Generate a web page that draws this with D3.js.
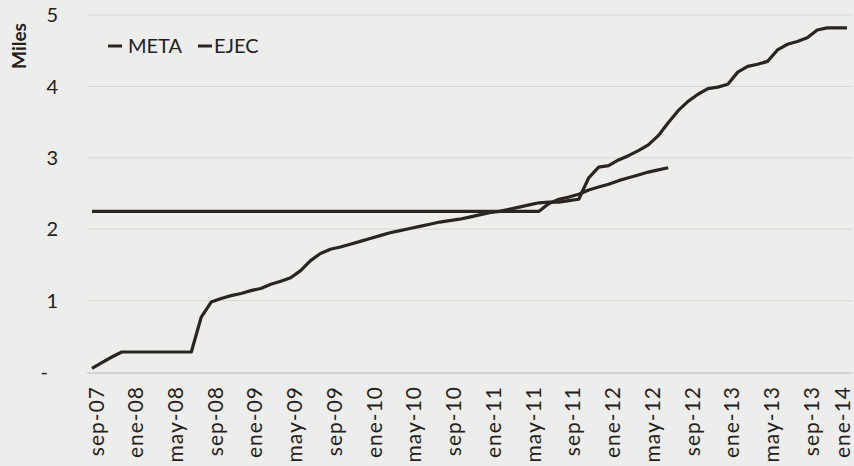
<!DOCTYPE html>
<html>
<head>
  <meta charset="utf-8">
  <script src="https://d3js.org/d3.v7.min.js"></script>
  <style>
    body { margin: 0; background: #ededeb; }
    svg { display: block; }
    text { font-family: Lato, "Open Sans", sans-serif; fill: #232120; }
  </style>
</head>
<body>
<script>
  // monthly categories, sep-07 .. ene-14
  var months = [
    "sep-07","oct-07","nov-07","dic-07",
    "ene-08","feb-08","mar-08","abr-08","may-08","jun-08","jul-08","ago-08","sep-08","oct-08","nov-08","dic-08",
    "ene-09","feb-09","mar-09","abr-09","may-09","jun-09","jul-09","ago-09","sep-09","oct-09","nov-09","dic-09",
    "ene-10","feb-10","mar-10","abr-10","may-10","jun-10","jul-10","ago-10","sep-10","oct-10","nov-10","dic-10",
    "ene-11","feb-11","mar-11","abr-11","may-11","jun-11","jul-11","ago-11","sep-11","oct-11","nov-11","dic-11",
    "ene-12","feb-12","mar-12","abr-12","may-12","jun-12","jul-12","ago-12","sep-12","oct-12","nov-12","dic-12",
    "ene-13","feb-13","mar-13","abr-13","may-13","jun-13","jul-13","ago-13","sep-13","oct-13","nov-13","dic-13",
    "ene-14"
  ];

  var xTickLabels = ["sep-07","ene-08","may-08","sep-08","ene-09","may-09","sep-09","ene-10","may-10","sep-10",
                     "ene-11","may-11","sep-11","ene-12","may-12","sep-12","ene-13","may-13","sep-13","ene-14"];

  var yTicks = [0, 1, 2, 3, 4, 5];
  var yTickLabels = ["-", "1", "2", "3", "4", "5"];

  // meta (target), thousands
  var meta = [
    2.25,2.25,2.25,2.25,
    2.25,2.25,2.25,2.25,2.25,2.25,2.25,2.25,2.25,2.25,2.25,2.25,
    2.25,2.25,2.25,2.25,2.25,2.25,2.25,2.25,2.25,2.25,2.25,2.25,
    2.25,2.25,2.25,2.25,2.25,2.25,2.25,2.25,2.25,2.25,2.25,2.25,
    2.25,2.25,2.25,2.25,2.25,2.25,2.36,2.42,2.45,2.49,2.55,2.59,
    2.63,2.68,2.72,2.76,2.80,2.83,2.86
  ];

  // ejecutado, thousands
  var ejec = [
    0.05,0.13,0.21,0.28,
    0.28,0.28,0.28,0.28,0.28,0.28,0.28,0.77,0.98,1.03,1.07,1.10,
    1.14,1.17,1.23,1.27,1.32,1.42,1.56,1.66,1.72,1.75,1.79,1.83,
    1.87,1.91,1.95,1.98,2.01,2.04,2.07,2.10,2.12,2.14,2.17,2.20,
    2.23,2.25,2.28,2.31,2.34,2.37,2.38,2.38,2.40,2.42,2.72,2.87,
    2.89,2.97,3.03,3.10,3.18,3.31,3.49,3.66,3.79,3.89,3.97,3.99,
    4.03,4.20,4.28,4.31,4.35,4.51,4.59,4.63,4.68,4.79,4.82,4.82,
    4.82
  ];

  var seriesNames = ["META", "EJEC"];

  var width = 854, height = 466;
  var lineColor = "#2a2522";

  var svg = d3.select("body").append("svg")
      .attr("width", width)
      .attr("height", height);

  var x = d3.scaleBand()
      .domain(months)
      .range([87, 852]);

  var y = d3.scaleLinear()
      .domain([0, 5])
      .range([372, 15]);

  function cx(m) { return x(m) + x.bandwidth() / 2; }

  // gridlines
  svg.append("g").selectAll("line")
      .data(yTicks.filter(function(d){ return d > 0; }))
      .enter().append("line")
      .attr("x1", 87).attr("x2", 852)
      .attr("y1", function(d){ return y(d); })
      .attr("y2", function(d){ return y(d); })
      .attr("stroke", "#d5d5d3")
      .attr("stroke-width", 1);

  // x axis line
  svg.append("line")
      .attr("x1", 87).attr("x2", 852)
      .attr("y1", y(0) + 1).attr("y2", y(0) + 1)
      .attr("stroke", "#bcbcba")
      .attr("stroke-width", 1.2);

  // y tick labels
  svg.append("g").selectAll("text")
      .data(yTicks)
      .enter().append("text")
      .attr("x", function(d){ return d === 0 ? 48 : 58; })
      .attr("y", function(d){ return y(d); })
      .attr("dy", "0.36em")
      .attr("text-anchor", "end")
      .style("font-size", "20px")
      .text(function(d, i){ return yTickLabels[i]; });

  // y axis title
  svg.append("text")
      .attr("transform", "translate(26,46) rotate(-90)")
      .attr("text-anchor", "middle")
      .style("font-size", "19px")
      .style("font-weight", "bold")
      .text("Miles");

  // x tick labels (last one nudged in so it stays on the page)
  svg.append("g").selectAll("text")
      .data(xTickLabels)
      .enter().append("text")
      .attr("transform", function(d){
        var px = Math.min(cx(d) + 4, 842);
        return "translate(" + px + ",386) rotate(-90)";
      })
      .attr("dy", "0.36em")
      .attr("text-anchor", "end")
      .style("font-size", "21px")
      .style("letter-spacing", "1px")
      .text(function(d){ return d; });

  // lines
  var line = d3.line()
      .x(function(d, i){ return cx(months[i]); })
      .y(function(d){ return y(d); });

  [meta, ejec].forEach(function(s){
    svg.append("path")
        .datum(s)
        .attr("d", line)
        .attr("fill", "none")
        .attr("stroke", lineColor)
        .attr("stroke-width", 3.2)
        .attr("stroke-linejoin", "round");
  });

  // legend
  var legendX = [108, 198];
  var legend = svg.append("g").selectAll("g")
      .data(seriesNames)
      .enter().append("g")
      .attr("transform", function(d, i){ return "translate(" + legendX[i] + ",46)"; });

  legend.append("line")
      .attr("x1", 0).attr("x2", 14)
      .attr("y1", 0).attr("y2", 0)
      .attr("stroke", lineColor)
      .attr("stroke-width", 3);

  legend.append("text")
      .attr("x", function(d, i){ return i === 0 ? 20 : 16; })
      .attr("y", 7)
      .style("font-size", "20px")
      .text(function(d){ return d; });
</script>
</body>
</html>
